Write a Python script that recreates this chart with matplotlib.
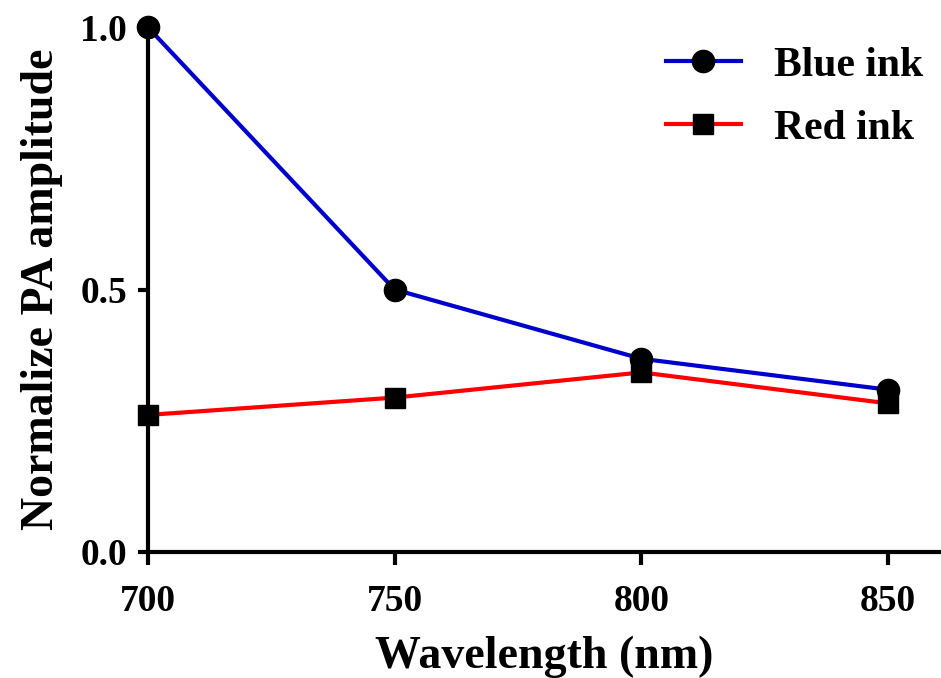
import matplotlib
matplotlib.use('Agg')
import matplotlib.pyplot as plt

# Data
wavelength = [700, 750, 800, 850]
blue_ink = [1.0, 0.50, 0.368, 0.309]
red_ink = [0.261, 0.294, 0.342, 0.283]

plt.rcParams['font.family'] = ['Liberation Serif', 'DejaVu Serif']
plt.rcParams['font.weight'] = 'bold'

fig = plt.figure(figsize=(9.41, 6.78), dpi=100)
ax = fig.add_axes([0.157, 0.186, 0.842, 0.774])

ax.plot(wavelength, blue_ink, color='#0000cc', lw=3, marker='o', ms=16,
        mfc='black', mec='black', label='Blue ink', clip_on=False, zorder=3)
ax.plot(wavelength, red_ink, color='#ff0000', lw=3, marker='s', ms=15,
        mfc='black', mec='black', label='Red ink', clip_on=False, zorder=3)

ax.set_xlim(700, 860.5)
ax.set_ylim(0, 1.0)
ax.set_xticks([700, 750, 800, 850])
ax.set_yticks([0.0, 0.5, 1.0])
ax.set_yticklabels(['0.0', '0.5', '1.0'])

for s in ['top', 'right']:
    ax.spines[s].set_visible(False)
for s in ['left', 'bottom']:
    ax.spines[s].set_linewidth(3)

ax.tick_params(axis='x', direction='out', length=9, width=3, labelsize=27, pad=14)
ax.tick_params(axis='y', direction='out', length=7, width=3, labelsize=27, pad=8)

ax.set_xlabel('Wavelength (nm)', fontsize=33, fontweight='bold', labelpad=12)
ax.set_ylabel('Normalize PA amplitude', fontsize=33, fontweight='bold', labelpad=12)

ax.legend(loc='upper right', frameon=False, fontsize=30, handlelength=1.8,
          borderaxespad=0.0, labelspacing=0.6, handletextpad=0.8,
          bbox_to_anchor=(1.0, 0.995))

fig.savefig('out.png', dpi=100)
